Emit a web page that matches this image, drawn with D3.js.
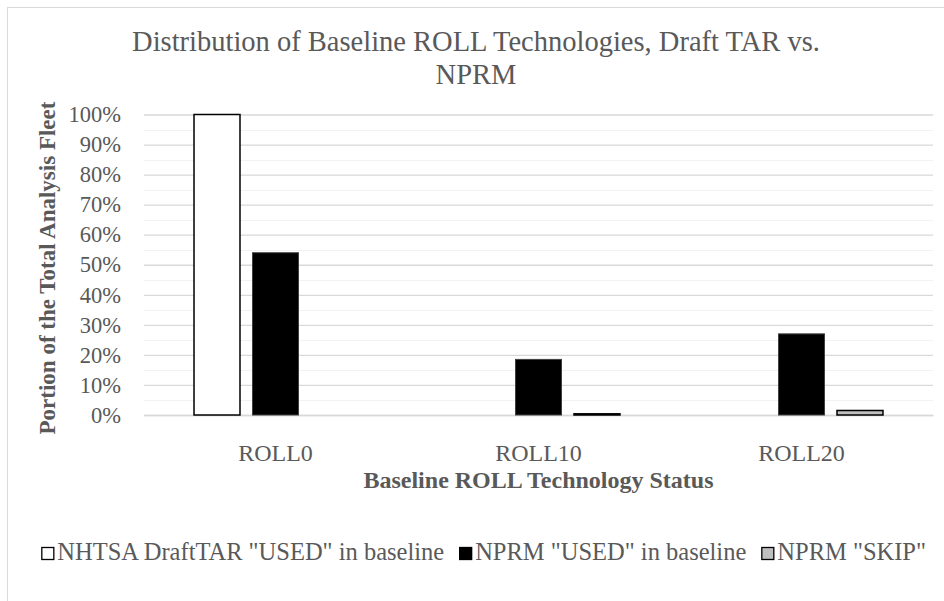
<!DOCTYPE html>
<html>
<head>
<meta charset="utf-8">
<script src="https://cdn.jsdelivr.net/npm/d3@7"></script>
<style>
  html, body { margin: 0; padding: 0; background: #fff; }
  svg { display: block; }
  text { font-family: "Liberation Serif", "Times New Roman", serif; fill: #595959; }
</style>
</head>
<body>
<svg id="chart" width="944" height="601"></svg>
<script>
const categories = ["ROLL0", "ROLL10", "ROLL20"];
const seriesNames = ['NHTSA DraftTAR "USED" in baseline', 'NPRM "USED" in baseline', 'NPRM "SKIP"'];
const draftTarUsed = [1.00, 0, 0];
const nprmUsed = [0.54, 0.185, 0.27];
const nprmSkip = [0, 0.004, 0.015];
const yTicks = [0, 0.1, 0.2, 0.3, 0.4, 0.5, 0.6, 0.7, 0.8, 0.9, 1.0];
const yMinor = [0.05, 0.15, 0.25, 0.35, 0.45, 0.55, 0.65, 0.75, 0.85, 0.95];
const titleLines = ["Distribution of Baseline ROLL Technologies, Draft TAR vs.", "NPRM"];
const xTitle = "Baseline ROLL Technology Status";
const yTitle = "Portion of the Total Analysis Fleet";

const seriesValues = [draftTarUsed, nprmUsed, nprmSkip];
const seriesFill = ["#ffffff", "#000000", "#bfbfbf"];
const seriesStroke = ["#000000", "#404040", "#000000"];
const seriesStrokeW = [1.5, 1, 1.5];

const svg = d3.select("#chart");

// chart border
svg.append("rect").attr("x", 7.5).attr("y", 7.5).attr("width", 960).attr("height", 620)
  .attr("fill", "none").attr("stroke", "#d9d9d9").attr("stroke-width", 1);

const plot = { left: 144, right: 933, top: 114.5, bottom: 415 };

const x0 = d3.scaleBand().domain(categories).range([plot.left, plot.right]).padding(0);
const x1 = d3.scaleBand().domain(d3.range(seriesNames.length))
  .range([0, x0.bandwidth()]).paddingInner(0.214).paddingOuter(0.855);
const y = d3.scaleLinear().domain([0, 1]).range([plot.bottom, plot.top]);

// minor gridlines
svg.append("g").selectAll("line").data(yMinor).join("line")
  .attr("x1", plot.left).attr("x2", plot.right)
  .attr("y1", d => Math.round(y(d)) + 0.5).attr("y2", d => Math.round(y(d)) + 0.5)
  .attr("stroke", "#f2f2f2").attr("stroke-width", 1);

// major gridlines via axis
const yAxis = d3.axisLeft(y).tickValues(yTicks).tickSize(-(plot.right - plot.left))
  .tickFormat(d3.format(".0%")).tickPadding(23);
const gy = svg.append("g").attr("transform", `translate(${plot.left},0)`).call(yAxis);
gy.select(".domain").remove();
gy.selectAll(".tick line").attr("stroke", "#d9d9d9").attr("stroke-width", 1.3);
gy.selectAll(".tick text").attr("font-size", 22.5).attr("fill", "#595959")
  .style("font-family", '"Liberation Serif", "Times New Roman", serif');

// x axis labels
const xAxis = d3.axisBottom(x0).tickSize(0).tickPadding(29);
const gx = svg.append("g").attr("transform", `translate(0,${plot.bottom})`).call(xAxis);
gx.select(".domain").attr("stroke", "#d9d9d9").attr("stroke-width", 1.3);
gx.selectAll(".tick text").attr("font-size", 24).attr("fill", "#595959")
  .style("font-family", '"Liberation Serif", "Times New Roman", serif');

// bars
const barData = [];
categories.forEach((c, ci) => {
  seriesValues.forEach((vals, si) => {
    if (vals[ci] > 0) barData.push({ c, si, v: vals[ci] });
  });
});
svg.append("g").selectAll("rect").data(barData).join("rect")
  .attr("x", d => x0(d.c) + x1(d.si))
  .attr("width", x1.bandwidth())
  .attr("y", d => y(d.v))
  .attr("height", d => y(0) - y(d.v))
  .attr("fill", d => seriesFill[d.si])
  .attr("stroke", d => seriesStroke[d.si])
  .attr("stroke-width", d => seriesStrokeW[d.si]);

// title
const cx = 476;
svg.append("text").attr("x", cx).attr("y", 51).attr("text-anchor", "middle")
  .attr("font-size", 28.5).text(titleLines[0]);
svg.append("text").attr("x", cx).attr("y", 84).attr("text-anchor", "middle")
  .attr("font-size", 28.5).text(titleLines[1]);

// axis titles
svg.append("text").attr("x", (plot.left + plot.right) / 2).attr("y", 488)
  .attr("text-anchor", "middle").attr("font-size", 24).attr("font-weight", "bold").text(xTitle);
svg.append("text").attr("transform", `translate(55,${268}) rotate(-90)`)
  .attr("text-anchor", "middle").attr("font-size", 23).attr("font-weight", "bold").text(yTitle);

// legend
const legendBaseline = 560;
const legend = svg.append("g");
const sq = 13, gapSq = 3, gapItem = 15;
let cursor = 0;
seriesNames.forEach((name, i) => {
  const g = legend.append("g");
  g.append("rect").attr("x", 0.5).attr("y", legendBaseline - sq + 0.5).attr("width", sq - 1).attr("height", sq - 1)
    .attr("fill", seriesFill[i]).attr("stroke", "#000").attr("stroke-width", 1.3);
  const t = g.append("text").attr("x", sq + gapSq).attr("y", legendBaseline).attr("font-size", 24.5).text(name);
  const w = sq + gapSq + t.node().getComputedTextLength();
  g.attr("transform", `translate(${cursor},0)`);
  cursor += w + gapItem;
});
const totalW = cursor - gapItem;
legend.attr("transform", `translate(${926 - totalW},0)`);
</script>
</body>
</html>
